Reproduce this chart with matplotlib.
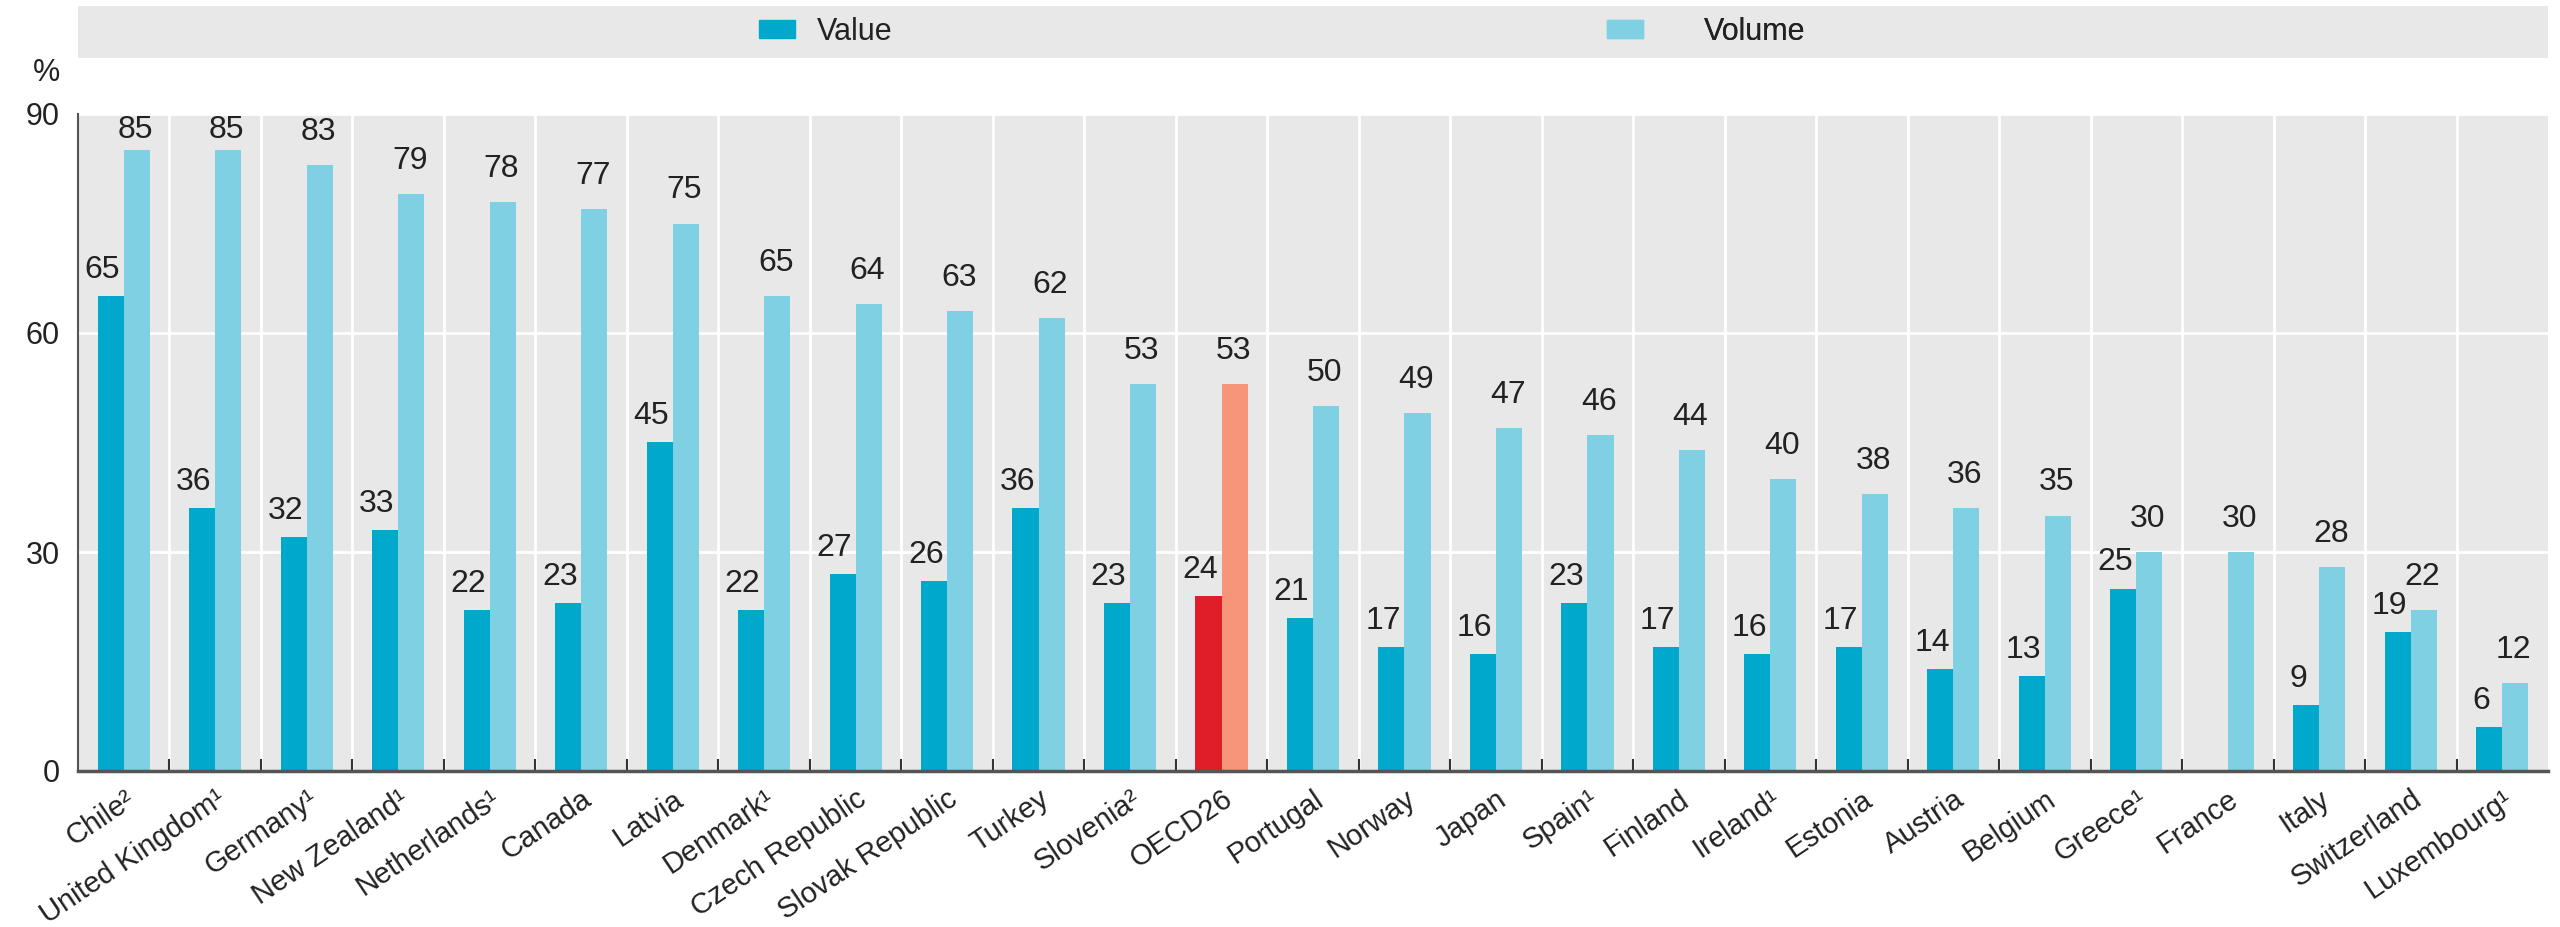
import numpy as np
import matplotlib.pyplot as plt
from matplotlib.patches import Patch

plt.rcParams['font.family'] = ['Liberation Sans', 'DejaVu Sans']

countries = ['Chile²', 'United Kingdom¹', 'Germany¹', 'New Zealand¹', 'Netherlands¹',
             'Canada', 'Latvia', 'Denmark¹', 'Czech Republic', 'Slovak Republic',
             'Turkey', 'Slovenia²', 'OECD26', 'Portugal', 'Norway', 'Japan', 'Spain¹',
             'Finland', 'Ireland¹', 'Estonia', 'Austria', 'Belgium', 'Greece¹',
             'France', 'Italy', 'Switzerland', 'Luxembourg¹']
value = [65, 36, 32, 33, 22, 23, 45, 22, 27, 26, 36, 23, 24, 21, 17, 16, 23,
         17, 16, 17, 14, 13, 25, np.nan, 9, 19, 6]
volume = [85, 85, 83, 79, 78, 77, 75, 65, 64, 63, 62, 53, 53, 50, 49, 47, 46,
          44, 40, 38, 36, 35, 30, 30, 28, 22, 12]

c_val, c_vol = '#00a8cc', '#80d0e3'
c_val_hl, c_vol_hl = '#e01e2a', '#f7957a'
panel = '#e8e8e8'
txt = '#222222'

n = len(countries)
x = np.arange(n)
w = 0.285
val_cols = [c_val_hl if c == 'OECD26' else c_val for c in countries]
vol_cols = [c_vol_hl if c == 'OECD26' else c_vol for c in countries]

W, H = 2560, 927
fig = plt.figure(figsize=(W / 100, H / 100), dpi=100)
ax = fig.add_axes([78 / W, 1 - 771 / H, 2470 / W, 657 / H])
ax.set_facecolor(panel)

ax.bar(x - w / 2, value, w, color=val_cols, zorder=3)
ax.bar(x + w / 2, volume, w, color=vol_cols, zorder=3)

fs = 23
ymax = 90
px_per_unit = 657 / ymax
for i in range(n):
    if not np.isnan(value[i]):
        ax.annotate(f'{value[i]:.0f}', (x[i] - w / 2, value[i]),
                    xytext=(-6, 8), textcoords='offset points',
                    ha='center', va='bottom', fontsize=fs, color=txt)
    # keep the tallest labels inside the panel
    off = min(13, ((ymax - volume[i]) * px_per_unit - 31) / 1.389)
    ax.annotate(f'{volume[i]:.0f}', (x[i] + w / 2, volume[i]),
                xytext=(-1, off), textcoords='offset points',
                ha='center', va='bottom', fontsize=fs, color=txt)

ax.set_xlim(-0.5, n - 0.5)
ax.set_ylim(0, ymax)
ax.set_yticks([0, 30, 60, 90])
ax.set_yticks([90], minor=True)
ax.tick_params(axis='y', which='major', length=0, labelsize=22, pad=13,
               labelcolor=txt)
ax.tick_params(axis='y', which='minor', length=9, direction='in', width=1.5,
               color='#555555')
ax.grid(axis='y', color='white', linewidth=2, zorder=1)

ax.set_xticks(x)
ax.set_xticklabels(countries, rotation=34, ha='right', va='top',
                   rotation_mode='anchor', fontsize=21, color=txt)
ax.set_xticks(x[:-1] + 0.5, minor=True)
ax.tick_params(axis='x', which='major', length=0, pad=10)
ax.tick_params(axis='x', which='minor', length=9, direction='in', width=1.5,
               color='#333333')
ax.grid(axis='x', which='minor', color='white', linewidth=2, zorder=1)

for s in ['top', 'right']:
    ax.spines[s].set_visible(False)
ax.spines['bottom'].set_color('#555555')
ax.spines['bottom'].set_linewidth(2.5)
ax.spines['bottom'].set_zorder(4)
ax.spines['left'].set_color('#555555')
ax.spines['left'].set_linewidth(1.5)

ax.text(-31 / 2470, 1 + 41 / 657, '%', transform=ax.transAxes, fontsize=22,
        ha='center', va='center', color=txt)

# legend band along the top, one entry at a time
lax = fig.add_axes([78 / W, 1 - 58 / H, 2470 / W, 52 / H])
lax.set_facecolor(panel)
lax.set_xticks([])
lax.set_yticks([])
for s in lax.spines.values():
    s.set_visible(False)
entries = [(Patch(color=c_val, label='Value'), 0.2757, 0.7),
           (Patch(color=c_vol, label='Volume'), 0.619, 2.0)]
for h, xa, tp in entries:
    leg = lax.legend(handles=[h], loc='center left', bbox_to_anchor=(xa, 0.5),
                     frameon=False, fontsize=22, handlelength=1.18,
                     handleheight=0.55, handletextpad=tp, borderpad=0,
                     borderaxespad=0)
    leg.get_texts()[0].set_color(txt)
    lax.add_artist(leg)

fig.savefig('out.png', dpi=100)
